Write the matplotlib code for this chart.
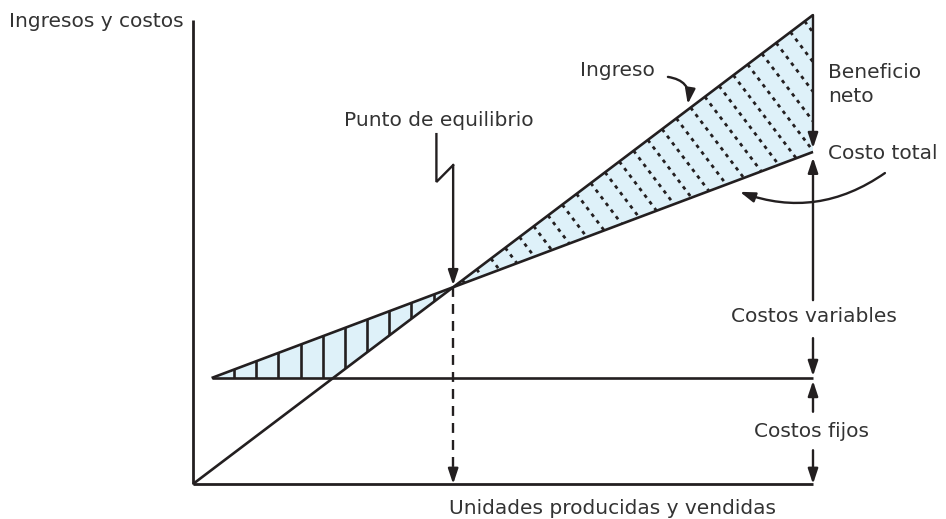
import numpy as np
import matplotlib.pyplot as plt
from matplotlib.patches import Polygon

# === Datos (escala relativa) ===
unidades = [0.0, 100.0]            # eje x: unidades producidas y vendidas
ingreso = [0.0, 100.0]             # recta de ingreso
q_costos = [3.0, 100.0]            # donde arrancan las rectas de costo
costo_fijo = [22.6, 22.6]          # costos fijos
costo_total = [22.6, 70.8]         # costo total
tope_eje_y = 98.9

# === Estilo ===
negro = "#231f20"
gris_texto = "#333333"
celeste = "#def1f9"
px_x, px_y = 6.2, 4.69             # pixeles por unidad de datos
fs = 14.5

plt.rcParams['font.family'] = ['DejaVu Sans']

fig = plt.figure(figsize=(9.46, 5.19), dpi=100)
ax = fig.add_axes([0, 0, 1, 1])
ax.set_xlim(-193 / px_x, 753 / px_x)
ax.set_ylim(-35 / px_y, 484 / px_y)
ax.axis('off')

# === Punto de equilibrio ===
precio = (ingreso[1] - ingreso[0]) / (unidades[1] - unidades[0])
v = (costo_total[1] - costo_total[0]) / (q_costos[1] - q_costos[0])
q_be = (costo_total[0] - v * q_costos[0]) / (precio - v)
y_be = precio * q_be
q_cruce = costo_fijo[0] / precio    # ingreso = costo fijo

# === Zona de perdida (rayado vertical) ===
perdida = Polygon([(q_costos[0], costo_fijo[0]), (q_cruce, costo_fijo[0]), (q_be, y_be)],
                  closed=True, facecolor=celeste, edgecolor='none', zorder=1)
ax.add_patch(perdida)
for xv in np.arange(6.6, q_be, 3.58):
    ln, = ax.plot([xv, xv], [0, 100], color=negro, lw=1.9, zorder=2)
    ln.set_clip_path(perdida)

# === Zona de beneficio (rayado discontinuo) ===
beneficio = Polygon([(q_be, y_be), (unidades[1], ingreso[1]), (q_costos[1], costo_total[1])],
                    closed=True, facecolor=celeste, edgecolor='none', zorder=1)
ax.add_patch(beneficio)
d = np.array([precio * px_y / px_x, -px_x / px_y])
d = d / np.hypot(d[0] * px_x, d[1] * px_y)
for q0 in np.arange(q_be + 1.5, unidades[1], 2.3):
    p0 = np.array([q0, precio * q0])
    p1 = p0 + 200 * d
    ln, = ax.plot([p0[0], p1[0]], [p0[1], p1[1]], color=negro, lw=2.0,
                  linestyle=(0, (1.3, 1.7)), zorder=2)
    ln.set_clip_path(beneficio)

# === Rectas principales ===
for xs, ys in [(unidades, ingreso), (q_costos, costo_fijo), (q_costos, costo_total)]:
    ax.plot(xs, ys, color=negro, lw=1.9, zorder=3, solid_capstyle='butt')

# ejes
ax.plot([0, 0], [0, tope_eje_y], color=negro, lw=2.0, zorder=3, solid_capstyle='butt')
ax.plot([0, unidades[1]], [0, 0], color=negro, lw=2.0, zorder=3, solid_capstyle='butt')


def flecha(x0, y0, x1, y1, rad=0.0):
    ax.annotate('', xy=(x1, y1), xytext=(x0, y0),
                arrowprops=dict(arrowstyle='-|>,head_length=0.9,head_width=0.3',
                                mutation_scale=10, color=negro, lw=1.7,
                                shrinkA=0, shrinkB=0,
                                connectionstyle=f'arc3,rad={rad}'),
                zorder=4)


# linea discontinua del punto de equilibrio
ax.plot([q_be, q_be], [y_be, 2.5], color=negro, lw=1.7, linestyle=(0, (4.2, 3.0)), zorder=3)
flecha(q_be, 2.6, q_be, 0)

# flecha en zigzag "Punto de equilibrio"
ax.plot([q_be - 2.7, q_be - 2.7, q_be], [74.6, 64.4, 68.0], color=negro, lw=1.7,
        zorder=4, solid_joinstyle='miter')
flecha(q_be, 68.0, q_be, y_be + 0.4)

# flechas de la derecha
xr = unidades[1]
flecha(xr, ingreso[1], xr, costo_total[1] + 0.8)     # beneficio neto
flecha(xr, 39.2, xr, costo_total[1] - 1.2)           # costos variables (arriba)
flecha(xr, 31.1, xr, costo_fijo[0] + 0.4)            # costos variables (abajo)
flecha(xr, 15.4, xr, costo_fijo[0] - 0.6)            # costos fijos (arriba)
flecha(xr, 7.2, xr, 0)                               # costos fijos (abajo)

# flechas curvas
flecha(76.6, 86.8, 79.8, 81.0, rad=-0.5)             # ingreso
flecha(111.6, 66.3, 88.2, 62.3, rad=-0.26)           # costo total

# === Textos ===
tk = dict(fontsize=fs, color=gris_texto)
ax.text(-1.45, 98.7, "Ingresos y costos", ha='right', va='center', **tk)
ax.text(39.7, 77.4, "Punto de equilibrio", ha='center', va='center', **tk)
ax.text(68.4, 88.1, "Ingreso", ha='center', va='center', **tk)
ax.text(102.4, 85.2, "Beneficio\nneto", ha='left', va='center', linespacing=1.3, **tk)
ax.text(102.4, 70.4, "Costo total", ha='left', va='center', **tk)
ax.text(100.2, 35.8, "Costos variables", ha='center', va='center', **tk)
ax.text(99.7, 11.3, "Costos fijos", ha='center', va='center', **tk)
ax.text(67.6, -5.3, "Unidades producidas y vendidas", ha='center', va='center', **tk)

fig.savefig("out.png", dpi=100)
